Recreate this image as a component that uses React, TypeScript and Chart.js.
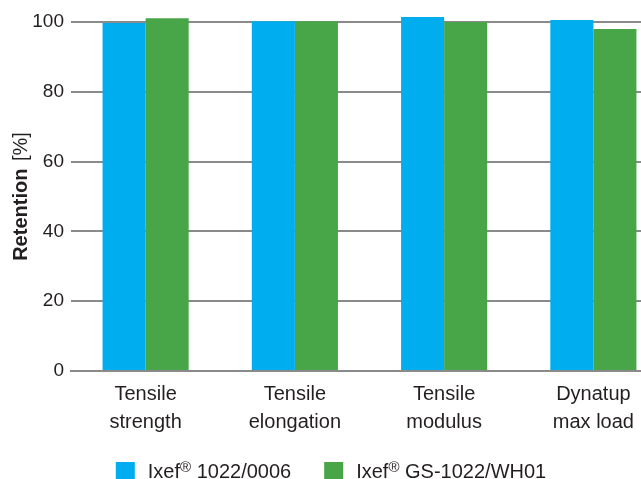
import React, { useEffect, useRef } from "react";
import { Chart, registerables } from "chart.js";

Chart.register(...registerables);

const categories: string[][] = [
  ["Tensile", "strength"],
  ["Tensile", "elongation"],
  ["Tensile", "modulus"],
  ["Dynatup", "max load"],
];
const seriesNames = ["Ixef® 1022/0006", "Ixef® GS-1022/WH01"];
const series1022 = [99.7, 100.2, 101.4, 100.6];
const seriesGS1022 = [101.1, 100.2, 100.0, 98.0];
const yTicks = [0, 20, 40, 60, 80, 100];
const yTitleBold = "Retention";
const yTitleRest = " [%]";

const FONT = '"Liberation Sans", Arial, sans-serif';
const TEXT = "#231f20";
const GRID = "#8a8a8a";
const BLUE = "#00aeef";
const GREEN = "#48a648";

const titlePlugin = {
  id: "yTitle",
  afterDraw(chart: any) {
    const { ctx, chartArea } = chart;
    ctx.save();
    ctx.fillStyle = TEXT;
    ctx.textBaseline = "alphabetic";
    const boldFont = `bold 20px ${FONT}`;
    const normFont = `20px ${FONT}`;
    ctx.font = boldFont;
    const w1 = ctx.measureText(yTitleBold).width;
    ctx.font = normFont;
    const w2 = ctx.measureText(yTitleRest).width;
    const cy = (chartArea.top + chartArea.bottom) / 2 + 1;
    ctx.translate(27, cy);
    ctx.rotate(-Math.PI / 2);
    const start = -(w1 + w2) / 2;
    ctx.textAlign = "left";
    ctx.font = boldFont;
    ctx.fillText(yTitleBold, start, 0);
    ctx.font = normFont;
    ctx.fillText(yTitleRest, start + w1 + 2, 0);
    ctx.restore();
  },
};

const legendPlugin = {
  id: "customLegend",
  afterDraw(chart: any) {
    const { ctx } = chart;
    ctx.save();
    const box = 19;
    const gapText = 13;
    const gapItem = 33;
    const mainFont = `20px ${FONT}`;
    const supFont = `15px ${FONT}`;
    const measure = (label: string) => {
      const parts = label.split("®");
      ctx.font = mainFont;
      const a = ctx.measureText(parts[0]).width;
      const c = ctx.measureText(parts[1] || "").width;
      ctx.font = supFont;
      const b = parts.length > 1 ? ctx.measureText("®").width : 0;
      return { parts, a, b, c, total: a + b + c };
    };
    const items = chart.data.datasets.map((d: any) => ({
      color: d.backgroundColor,
      m: measure(d.label),
    }));
    let total = 0;
    items.forEach((it: any, i: number) => {
      total += box + gapText + it.m.total + (i < items.length - 1 ? gapItem : 0);
    });
    let x = chart.width / 2 - 3 - total / 2;
    const boxTop = chart.height - 17;
    const baseline = chart.height - 1;
    items.forEach((it: any) => {
      ctx.fillStyle = it.color;
      ctx.fillRect(x, boxTop, box, box);
      x += box + gapText;
      ctx.fillStyle = TEXT;
      ctx.textBaseline = "alphabetic";
      ctx.textAlign = "left";
      ctx.font = mainFont;
      ctx.fillText(it.m.parts[0], x, baseline);
      x += it.m.a;
      if (it.m.parts.length > 1) {
        ctx.font = supFont;
        ctx.fillText("®", x, baseline - 6);
        x += it.m.b;
        ctx.font = mainFont;
        ctx.fillText(it.m.parts[1], x, baseline);
        x += it.m.c;
      }
      x += gapItem;
    });
    ctx.restore();
  },
};

export default function App() {
  const canvasRef = useRef<HTMLCanvasElement | null>(null);

  useEffect(() => {
    if (!canvasRef.current) return;
    const chart = new Chart(canvasRef.current, {
      type: "bar",
      data: {
        labels: categories,
        datasets: [
          {
            label: seriesNames[0],
            data: series1022,
            backgroundColor: BLUE,
            borderWidth: 0,
            clip: false as any,
          },
          {
            label: seriesNames[1],
            data: seriesGS1022,
            backgroundColor: GREEN,
            borderWidth: 0,
            clip: false as any,
          },
        ],
      },
      options: {
        animation: false,
        responsive: true,
        maintainAspectRatio: false,
        devicePixelRatio: 1,
        layout: { padding: { top: 22, left: 0, right: 0, bottom: 0 } },
        datasets: {
          bar: { barPercentage: 1, categoryPercentage: 0.577 },
        },
        plugins: {
          legend: { display: false },
          tooltip: { enabled: false },
          title: { display: false },
        },
        scales: {
          x: {
            grid: { display: false, drawTicks: false },
            border: { display: true, color: GRID, width: 2 },
            ticks: {
              color: TEXT,
              padding: 9,
              maxRotation: 0,
              autoSkip: false,
              font: { family: FONT, size: 20, lineHeight: 1.4 },
            },
            afterFit: (s: any) => {
              s.height = 108;
            },
          },
          y: {
            min: 0,
            max: 100,
            afterBuildTicks: (s: any) => {
              s.ticks = yTicks.map((v) => ({ value: v }));
            },
            grid: { color: GRID, lineWidth: 2, drawTicks: false },
            border: { display: false },
            ticks: {
              color: TEXT,
              padding: 7,
              font: { family: FONT, size: 19 },
            },
            afterFit: (s: any) => {
              s.width = 71;
            },
          },
        },
      },
      plugins: [titlePlugin, legendPlugin],
    });
    return () => chart.destroy();
  }, []);

  return (
    <div
      style={{
        position: "fixed",
        left: 0,
        top: 0,
        width: 641,
        height: 479,
        overflow: "hidden",
        background: "#fff",
      }}
    >
      <div style={{ position: "relative", width: 668, height: 479 }}>
        <canvas ref={canvasRef} />
      </div>
    </div>
  );
}
